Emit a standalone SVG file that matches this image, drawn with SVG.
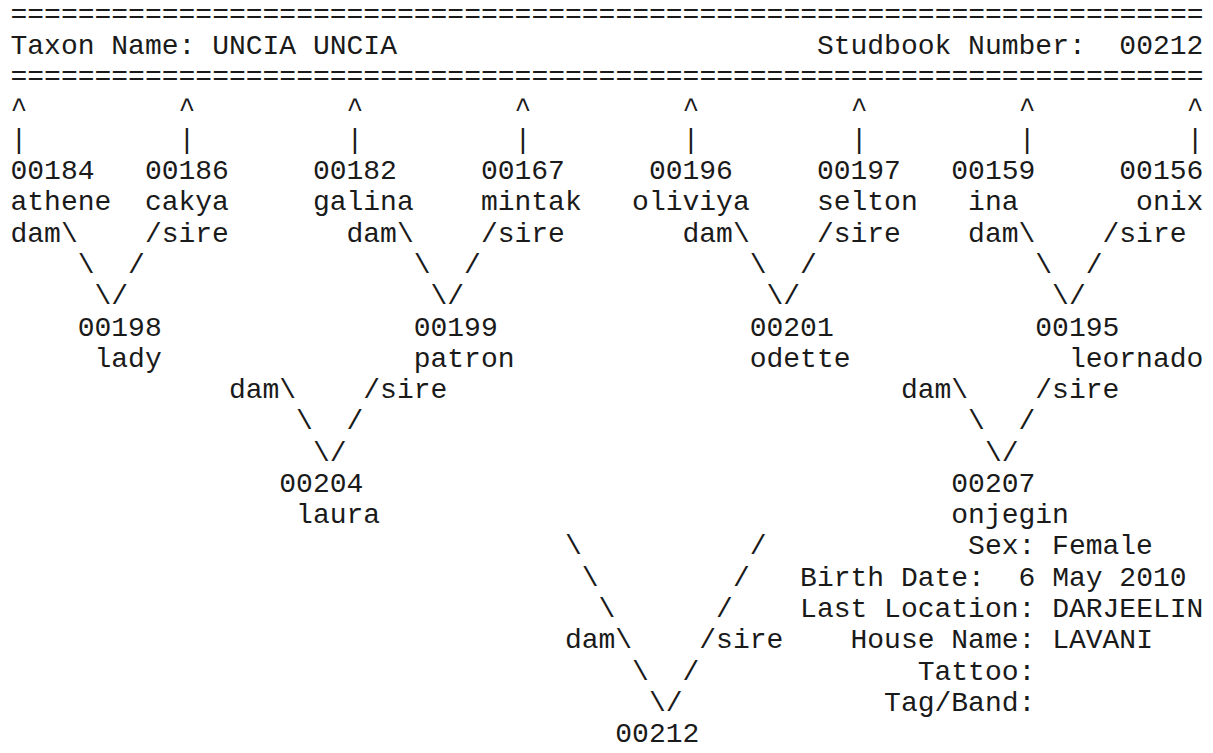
<svg xmlns="http://www.w3.org/2000/svg" width="1213" height="753" viewBox="0 0 1213 753">
<style>
text { font-family: "Liberation Mono", "Courier New", monospace; font-size: 28px; fill: #1a1a1a; white-space: pre; }
</style>
<rect x="0" y="0" width="1213" height="753" fill="#ffffff"/>
<g id="header">
<text x="10.5" y="22.8">=======================================================================</text>
<text x="10.5" y="54.1">Taxon Name: UNCIA UNCIA</text>
<text x="816.9" y="54.1" xml:space="preserve">Studbook Number:  00212</text>
<text x="10.5" y="85.3">=======================================================================</text>
</g>
<g id="connectors">
<text x="10.5" y="116.6" xml:space="preserve">^         ^         ^         ^         ^         ^         ^         ^</text>
<text x="10.5" y="147.9" xml:space="preserve">|         |         |         |         |         |         |         |</text>
<text x="10.5" y="241.7">dam\</text><text x="144.9" y="241.7">/sire</text>
<text x="346.5" y="241.7">dam\</text><text x="480.9" y="241.7">/sire</text>
<text x="682.5" y="241.7">dam\</text><text x="816.9" y="241.7">/sire</text>
<text x="968.1" y="241.7">dam\</text><text x="1102.5" y="241.7">/sire</text>
<text x="77.7" y="273">\</text><text x="128.1" y="273">/</text>
<text x="413.7" y="273">\</text><text x="464.1" y="273">/</text>
<text x="749.7" y="273">\</text><text x="800.1" y="273">/</text>
<text x="1035.3" y="273">\</text><text x="1085.7" y="273">/</text>
<text x="94.5" y="304.2">\/</text>
<text x="430.5" y="304.2">\/</text>
<text x="766.5" y="304.2">\/</text>
<text x="1052.1" y="304.2">\/</text>
<text x="228.9" y="398">dam\</text><text x="363.3" y="398">/sire</text>
<text x="900.9" y="398">dam\</text><text x="1035.3" y="398">/sire</text>
<text x="296.1" y="429.3">\</text><text x="346.5" y="429.3">/</text>
<text x="968.1" y="429.3">\</text><text x="1018.5" y="429.3">/</text>
<text x="312.9" y="460.6">\/</text>
<text x="984.9" y="460.6">\/</text>
<text x="564.9" y="554.4">\</text><text x="749.7" y="554.4">/</text>
<text x="581.7" y="585.7">\</text><text x="732.9" y="585.7">/</text>
<text x="598.5" y="616.9">\</text><text x="716.1" y="616.9">/</text>
<text x="564.9" y="648.2">dam\</text><text x="699.3" y="648.2">/sire</text>
<text x="632.1" y="679.5">\</text><text x="682.5" y="679.5">/</text>
<text x="648.9" y="710.7">\/</text>
</g>
<g id="node-00184"><text x="10.5" y="179.2">00184</text><text x="10.5" y="210.4">athene</text></g>
<g id="node-00186"><text x="144.9" y="179.2">00186</text><text x="144.9" y="210.4">cakya</text></g>
<g id="node-00182"><text x="312.9" y="179.2">00182</text><text x="312.9" y="210.4">galina</text></g>
<g id="node-00167"><text x="480.9" y="179.2">00167</text><text x="480.9" y="210.4">mintak</text></g>
<g id="node-00196"><text x="648.9" y="179.2">00196</text><text x="632.1" y="210.4">oliviya</text></g>
<g id="node-00197"><text x="816.9" y="179.2">00197</text><text x="816.9" y="210.4">selton</text></g>
<g id="node-00159"><text x="951.3" y="179.2">00159</text><text x="968.1" y="210.4">ina</text></g>
<g id="node-00156"><text x="1119.3" y="179.2">00156</text><text x="1136.1" y="210.4">onix</text></g>
<g id="node-00198"><text x="77.7" y="335.5">00198</text><text x="94.5" y="366.8">lady</text></g>
<g id="node-00199"><text x="413.7" y="335.5">00199</text><text x="413.7" y="366.8">patron</text></g>
<g id="node-00201"><text x="749.7" y="335.5">00201</text><text x="749.7" y="366.8">odette</text></g>
<g id="node-00195"><text x="1035.3" y="335.5">00195</text><text x="1068.9" y="366.8">leornado</text></g>
<g id="node-00204"><text x="279.3" y="491.9">00204</text><text x="296.1" y="523.1">laura</text></g>
<g id="node-00207"><text x="951.3" y="491.9">00207</text><text x="951.3" y="523.1">onjegin</text></g>
<g id="node-00212"><text x="615.3" y="742">00212</text></g>
<g id="details-00212">
<text x="968.1" y="554.4">Sex: Female</text>
<text x="800.1" y="585.7" xml:space="preserve">Birth Date:  6 May 2010</text>
<text x="800.1" y="616.9">Last Location: DARJEELIN</text>
<text x="850.5" y="648.2">House Name: LAVANI</text>
<text x="917.7" y="679.5">Tattoo:</text>
<text x="884.1" y="710.7">Tag/Band:</text>
</g>
</svg>
